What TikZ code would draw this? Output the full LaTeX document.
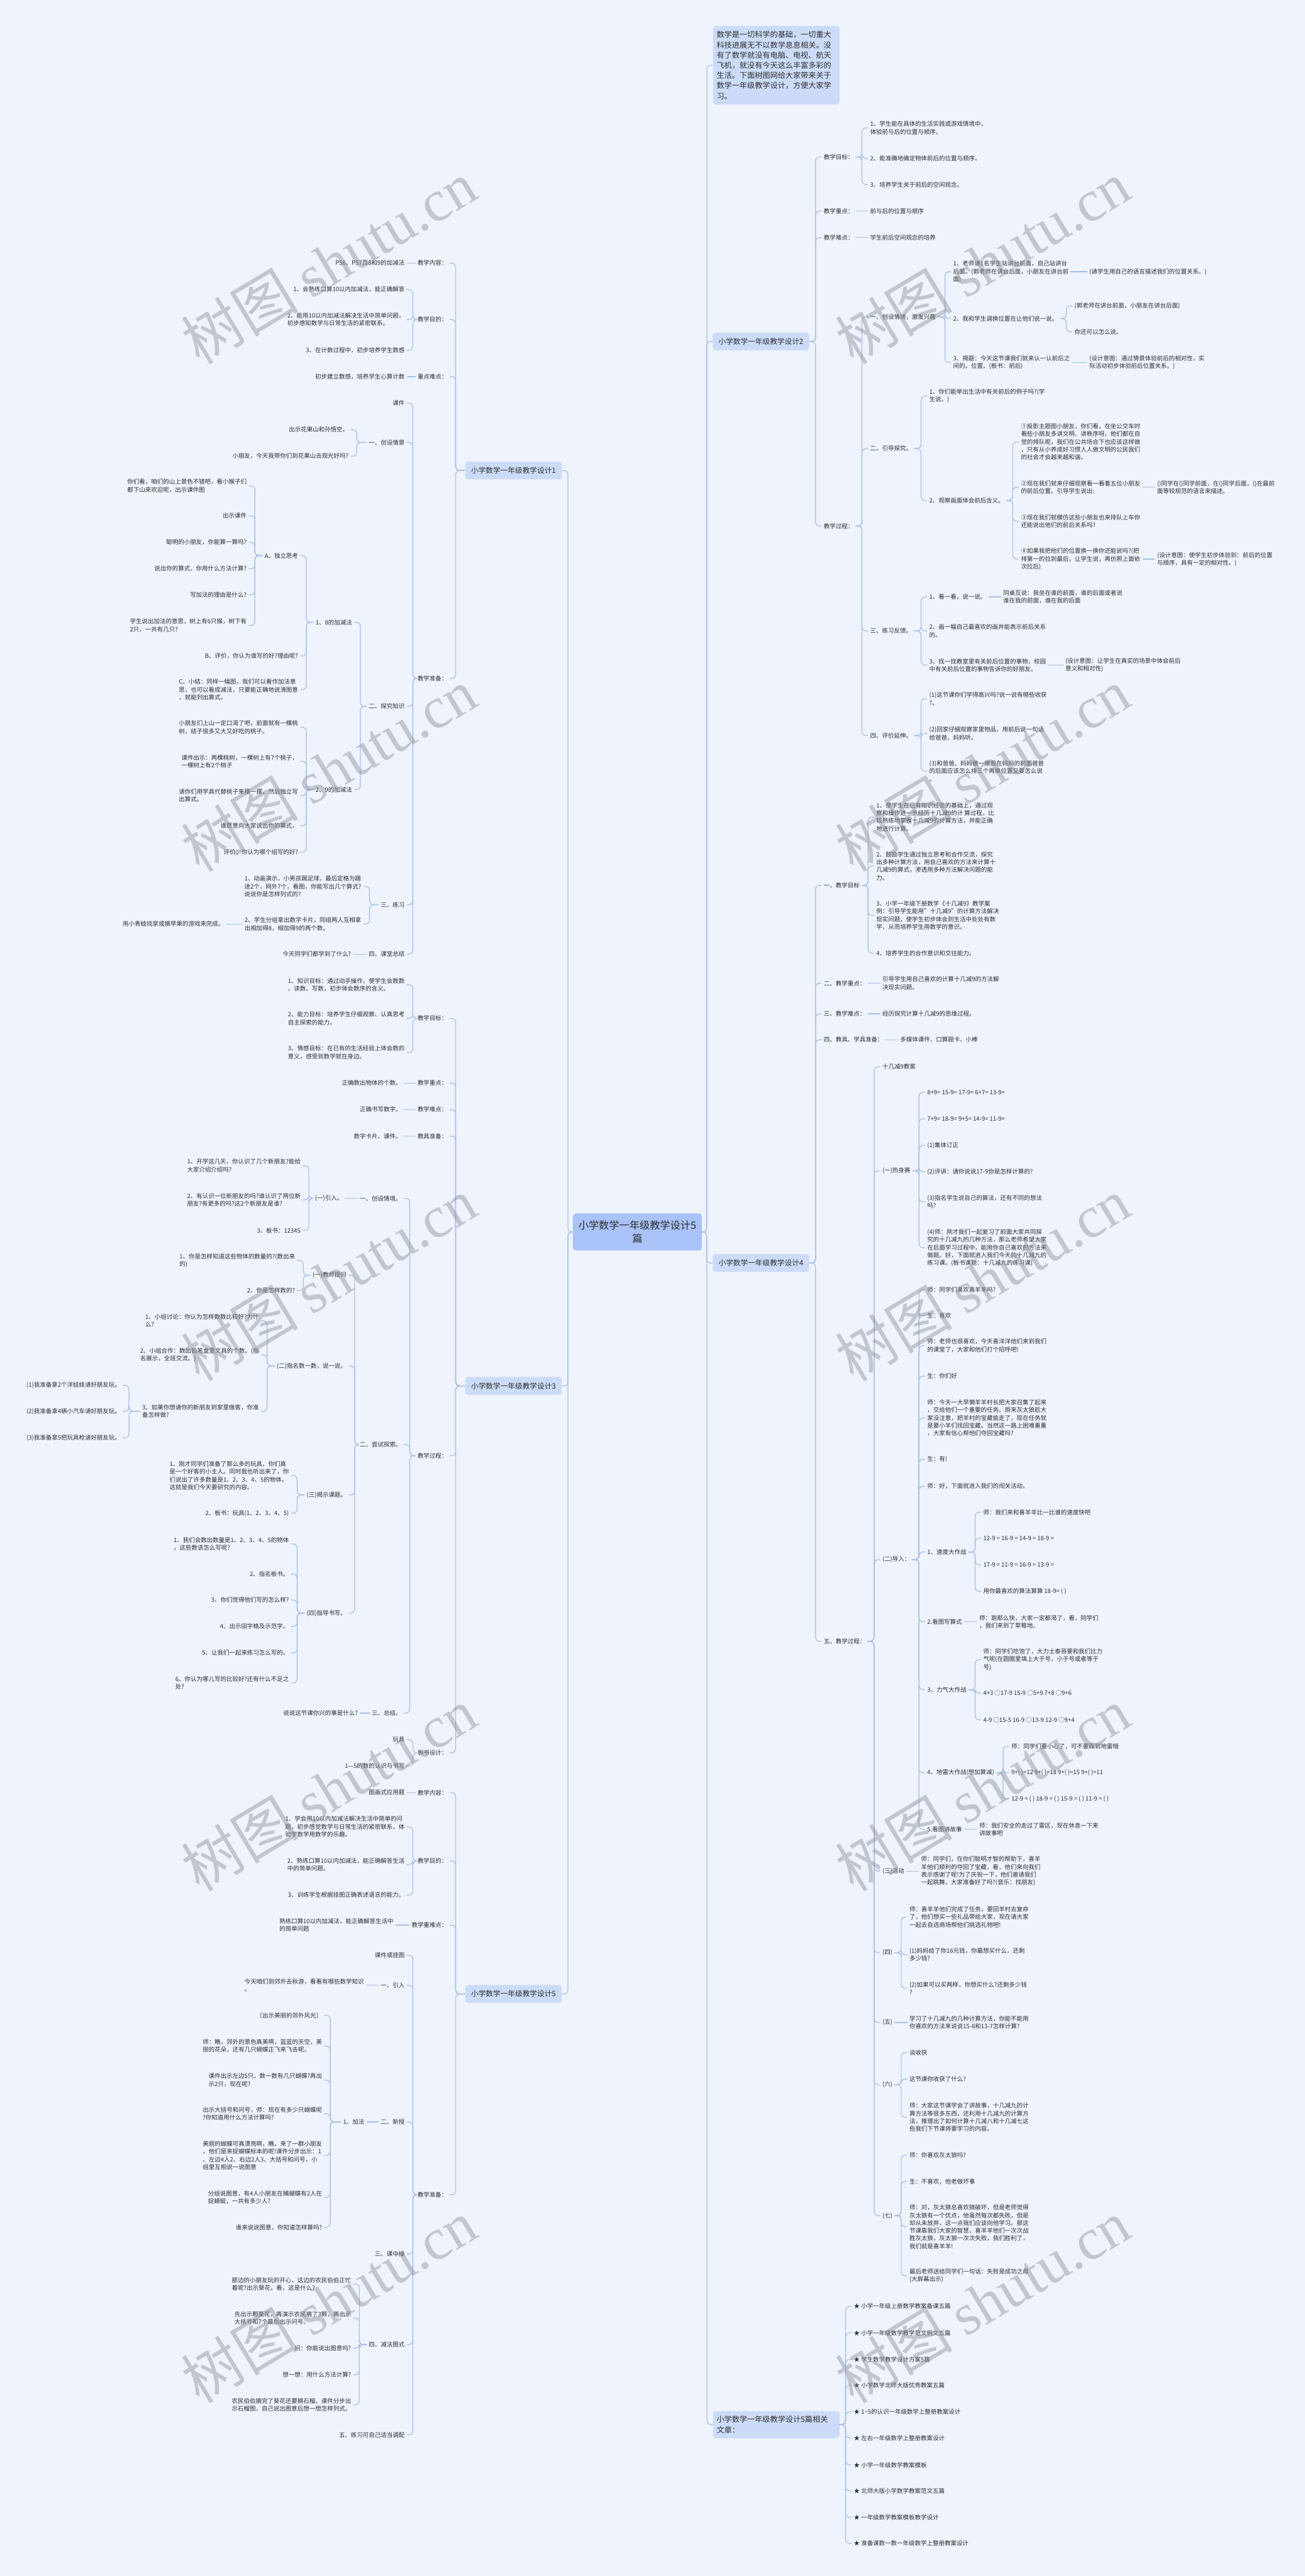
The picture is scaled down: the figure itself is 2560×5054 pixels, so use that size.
\documentclass[tikz,border=0pt]{standalone}
\usepackage{fontspec}
\setmainfont{Noto Sans CJK SC}
\newfontfamily\wmf{Liberation Serif}
\usetikzlibrary{calc}
\definecolor{bgc}{HTML}{EEF3FC}
\definecolor{lc}{HTML}{A7BFE5}
\definecolor{l1c}{HTML}{CCDCF8}
\definecolor{c0c}{HTML}{A9C2F8}
\definecolor{tc}{HTML}{2E2E2E}
\definecolor{wmc}{HTML}{8C9099}
\newcommand\fs{\fontsize{11.7}{15.2}\selectfont}
\newcommand\fl{\fontsize{14.4}{19}\selectfont}
\newcommand\fc{\fontsize{20}{26}\selectfont}
\newcommand\fib{\fontsize{15}{20}\selectfont}
\newcommand\KR[2]{\foreach \kk in {#2}{\draw[conn] (#1.east) -- ($(#1.east -| \kk.west)+(-12,0)$) |- (\kk.west);}}
\newcommand\KL[2]{\foreach \kk in {#2}{\draw[conn] (#1.west) -- ($(#1.west -| \kk.east)+(12,0)$) |- (\kk.east);}}
\newcommand\SR[2]{\draw[conn] (#1.east) -- (#2.west);}
\newcommand\SL[2]{\draw[conn] (#1.west) -- (#2.east);}
\tikzset{
 txt/.style={font=\fs, text=tc, inner xsep=4pt, inner ysep=1pt, align=left},
 nl/.style={txt, anchor=east},
 nr/.style={txt, anchor=west},
 conn/.style={draw=lc, line width=1.5pt, rounded corners=8pt},
 lone/.style={fill=l1c, rounded corners=5pt, font=\fl, text=tc, inner xsep=9pt, minimum height=35pt, minimum width=189pt},
 wm/.style={rotate=31, text=wmc, opacity=0.45, font=\fontsize{115}{115}\selectfont},
}
\begin{document}
\begin{tikzpicture}[x=1pt,y=-1pt]
\path[fill=bgc] (0,0) rectangle (2560,5054);
\useasboundingbox (0,0) rectangle (2560,5054);

% ---------- centre ----------
\node[fill=c0c, rounded corners=6pt, font=\fc, text=tc, align=center, minimum width=253pt, minimum height=73pt] (ctr) at (1250.5,2417) {小学数学一年级教学设计5\\篇};

% ---------- level 1 ----------
\node[lone] (d1) at (1007.5,923) {小学数学一年级教学设计1};
\node[lone] (d3) at (1007.5,2719) {小学数学一年级教学设计3};
\node[lone] (d5) at (1007.5,3912) {小学数学一年级教学设计5};
\node[fill=l1c, rounded corners=5pt, font=\fib, text=tc, align=left, text width=234pt, inner xsep=7pt, minimum height=154pt] (ib) at (1523,128) {数学是一切科学的基础，一切重大\\科技进展无不以数学息息相关。没\\有了数学就没有电脑、电视、航天\\飞机，就没有今天这么丰富多彩的\\生活。下面树图网给大家带来关于\\数学一年级教学设计，方便大家学\\习。};
\node[lone] (d2) at (1493,670) {小学数学一年级教学设计2};
\node[lone] (d4) at (1493,2478) {小学数学一年级教学设计4};
\node[fill=l1c, rounded corners=5pt, font=\fib, text=tc, align=left, text width=234pt, inner xsep=7pt, minimum height=53pt] (rel) at (1523,4757) {小学数学一年级教学设计5篇相关\\文章：};

% ================= DESIGN 1 =================
\node[nl] (a1) at (882,516) {教学内容：};
\node[nl] (a2) at (882,627) {教学目的：};
\node[nl] (a3) at (882,739) {重点难点：};
\node[nl] (a4) at (882,1331) {教学准备：};
\node[nl] (a11) at (798,516) {P56、P57页8和9的加减法};
\node[nl] (a21) at (798,568) {1、会熟练口算10以内加减法，能正确解答};
\node[nl] (a22) at (798,627) {2、能用10以内加减法解决生活中简单问题，\\初步感知数学与日常生活的紧密联系。};
\node[nl] (a23) at (798,687) {3、在计数过程中，初步培养学生数感};
\node[nl] (a31) at (798,739) {初步建立数感，培养学生心算计数};
\node[nl] (a41) at (798,791) {课件};
\node[nl] (a42) at (798,868) {一、创设情景};
\node[nl] (a43) at (798,1386) {二、探究知识};
\node[nl] (a44) at (798,1775) {三、练习};
\node[nl] (a45) at (798,1872) {四、课堂总结};
\node[nl] (a421) at (688,843) {出示花果山和孙悟空，};
\node[nl] (a422) at (688,895) {小朋友，今天我带你们到花果山去观光好吗?};
\node[nl] (a431) at (695,1221) {1、8的加减法};
\node[nl] (a432) at (695,1549) {2、9的加减法};
\node[nl] (a4311) at (589,1090) {A、独立思考};
\node[nl] (a4312) at (589,1287) {B、评价，你认为谁写的好?理由呢?};
\node[nl] (a4313) at (589,1353) {C、小结：同样一幅图，我们可以看作加法意\\思，也可以看成减法，只要能正确地说清图意\\，就能列出算式。};
\node[nl] (n1) at (488,953) {你们看，咱们的山上景色不错吧，看小猴子们\\都下山来欢迎呢，出示课件图};
\node[nl] (n2) at (488,1012) {出示课件};
\node[nl] (n3) at (488,1064) {聪明的小朋友，你能算一算吗?};
\node[nl] (n4) at (488,1116) {说出你的算式，你用什么方法计算?};
\node[nl] (n5) at (488,1167) {写加法的理由是什么?};
\node[nl] (n6) at (488,1227) {学生说出加法的意思，树上有6只猴，树下有\\2只，一共有几只?};
\node[nl] (m1) at (589,1427) {小朋友们上山一定口渴了吧，前面就有一棵桃\\树，结子很多又大又好吃的桃子。};
\node[nl] (m2) at (589,1494) {课件出示：两棵桃树，一棵树上有7个桃子，\\一棵树上有2个桃子};
\node[nl] (m3) at (589,1561) {请你们用学具代替桃子来摆一摆，然后独立写\\出算式。};
\node[nl] (m4) at (589,1620) {谁愿意向大家说出你的算式，};
\node[nl] (m5) at (589,1672) {评价：你认为哪个组写的好?};
\node[nl] (a441) at (713,1739) {1、动画演示，小男孩踢足球，最后定格为踢\\进2个，网外7个，看图，你能写出几个算式?\\说说你是怎样列式的?};
\node[nl] (a442) at (713,1813) {2、学生分组拿出数字卡片，同组两人互相拿\\出相加得8，相加得9的两个数。};
\node[nl] (a4421) at (444,1813) {用小青蛙找家或摘苹果的游戏来完成。};
\node[nl] (a451) at (693,1872) {今天同学们都学到了什么?};

% ================= DESIGN 3 =================
\node[nl] (b1) at (882,1998) {教学目标：};
\node[nl] (b2) at (882,2125) {教学重点：};
\node[nl] (b3) at (882,2177) {教学难点：};
\node[nl] (b4) at (882,2229) {教具准备：};
\node[nl] (b5) at (882,2856) {教学过程：};
\node[nl] (b6) at (882,3439) {板书设计：};
\node[nl] (b11) at (798,1932) {1、知识目标：通过动手操作，使学生会数数\\、读数、写数，初步体会数序的含义。};
\node[nl] (b12) at (798,1998) {2、能力目标：培养学生仔细观察、认真思考\\自主探索的能力。};
\node[nl] (b13) at (798,2065) {3、情感目标：在已有的生活经验上体会数的\\意义，感受到数学就在身边。};
\node[nl] (b21) at (792,2125) {正确数出物体的个数。};
\node[nl] (b31) at (792,2177) {正确书写数字。};
\node[nl] (b41) at (792,2229) {数字卡片、课件。};
\node[nl] (b51) at (792,2351) {一、创设情境。};
\node[nl] (b52) at (792,2834) {二、尝试探索。};
\node[nl] (b53) at (792,3361) {三、总结。};
\node[nl] (b511) at (677,2351) {(一)引入。};
\node[nl] (b5111) at (594,2287) {1、开学这几天，你认识了几个新朋友?能给\\大家介绍介绍吗?};
\node[nl] (b5112) at (594,2354) {2、有认识一位新朋友的吗?谁认识了两位新\\朋友?有更多的吗?这2个新朋友是谁?};
\node[nl] (b5113) at (594,2414) {3、板书：12345};
\node[nl] (b521) at (684,2502) {(一)教师提问};
\node[nl] (b522) at (684,2680) {(二)指名数一数，说一说。};
\node[nl] (b523) at (684,2933) {(三)揭示课题。};
\node[nl] (b524) at (684,3165) {(四)指导书写。};
\node[nl] (b5211) at (583,2473) {1、你是怎样知道这些物体的数量的?(数出来\\的)};
\node[nl] (b5212) at (583,2532) {2、你是怎样数的?};
\node[nl] (b5221) at (512,2591) {1、小组讨论：你认为怎样数数比较好?为什\\么?};
\node[nl] (b5222) at (512,2658) {2、小组合作：数出铅笔盒里文具的个数。(指\\名展示，全班交流。)};
\node[nl] (b5223) at (512,2769) {3、如果你想请你的新朋友到家里做客，你准\\备怎样做?};
\node[nl] (w1) at (241,2718) {(1)我准备拿2个洋娃娃请好朋友玩。};
\node[nl] (w2) at (241,2769) {(2)我准备拿4辆小汽车请好朋友玩。};
\node[nl] (w3) at (241,2821) {(3)我准备拿5把玩具枪请好朋友玩。};
\node[nl] (b5231) at (571,2895) {1、刚才同学们准备了那么多的玩具，你们真\\是一个好客的小主人。同时我也听出来了，你\\们说出了许多数量是1、2、3、4、5的物体。\\这就是我们今天要研究的内容。};
\node[nl] (b5232) at (571,2969) {2、板书：玩具(1、2、3、4、5)};
\node[nl] (p1) at (571,3029) {1、我们会数出数量是1、2、3、4、5的物体\\，这些数该怎么写呢?};
\node[nl] (p2) at (571,3088) {2、指名板书。};
\node[nl] (p3) at (571,3139) {3、你们觉得他们写的怎么样?};
\node[nl] (p4) at (571,3191) {4、出示田字格及示范字。};
\node[nl] (p5) at (571,3243) {5、让我们一起来练习怎么写的。};
\node[nl] (p6) at (571,3302) {6、你认为哪儿写的比较好?还有什么不足之\\处?};
\node[nl] (b531) at (706,3361) {说说这节课你兴的事是什么?};
\node[nl] (b61) at (798,3413) {玩具};
\node[nl] (b62) at (798,3465) {1—5的数的认识与书写};

% ================= DESIGN 5 =================
\node[nl] (c1) at (882,3517) {教学内容：};
\node[nl] (c2) at (882,3651) {教学目的：};
\node[nl] (c3) at (882,3777) {教学重难点：};
\node[nl] (c4) at (882,4306) {教学准备：};
\node[nl] (c11) at (798,3517) {图画式应用题};
\node[nl] (c21) at (798,3584) {1、学会用10以内加减法解决生活中简单的问\\题，初步感觉数学与日常生活的紧密联系，体\\验学数学用数学的乐趣。};
\node[nl] (c22) at (798,3658) {2、熟练口算10以内加减法，能正确解答生活\\中的简单问题。};
\node[nl] (c23) at (798,3718) {3、训练学生根据挂图正确表述语言的能力。};
\node[nl] (c31) at (776,3777) {熟练口算10以内加减法，能正确解答生活中\\的简单问题};
\node[nl] (c41) at (798,3836) {课件或挂图};
\node[nl] (c42) at (798,3895) {一、引入};
\node[nl] (c43) at (798,4163) {二、新授};
\node[nl] (c44) at (798,4422) {三、课中操};
\node[nl] (c45) at (798,4600) {四、减法图式};
\node[nl] (c46) at (798,4777) {五、练习可自己适当调配};
\node[nl] (c421) at (718,3895) {今天咱们到郊外去秋游，看看有哪些数学知识\\。};
\node[nl] (c431) at (719,4163) {1、加法};
\node[nl] (q1) at (636,3954) {〔出示美丽的郊外风光〕};
\node[nl] (q2) at (636,4014) {师：瞧，郊外的景色真美啊，蓝蓝的天空，美\\丽的花朵，还有几只蝴蝶正飞来飞去呢。};
\node[nl] (q3) at (636,4081) {课件出示左边5只，数一数有几只蝴蝶?再出\\示2只，现在呢?};
\node[nl] (q4) at (636,4147) {出示大括号和问号，师：现在有多少只蝴蝶呢\\?你知道用什么方法计算吗?};
\node[nl] (q5) at (636,4229) {美丽的蝴蝶可真漂亮啊，瞧，来了一群小朋友\\，他们是来捉蝴蝶标本的呢!课件分步出示：1\\、左边4人2、右边2人3、大括号和问号，小\\组里互相说一说图意};
\node[nl] (q6) at (636,4311) {分组说图意，有4人小朋友在捕蝴蝶有2人在\\捉蜻蜓，一共有多少人?};
\node[nl] (q7) at (636,4370) {谁来说说图意，你知道怎样算吗?};
\node[nl] (r1) at (693,4481) {那边的小朋友玩的开心，这边的农民伯伯正忙\\着呢?出示葵花，看，这是什么?};
\node[nl] (r2) at (693,4548) {先出示颗葵花，再演示农民摘了3颗，再出示\\大括号和7个最后出示问号。};
\node[nl] (r3) at (693,4607) {问：你能说出图意吗?};
\node[nl] (r4) at (693,4659) {想一想：用什么方法计算?};
\node[nl] (r5) at (693,4718) {农民伯伯摘完了葵花还要摘石榴。课件分步出\\示石榴图，自己说出图意后想一想怎样列式。};

% ================= DESIGN 2 =================
\node[nr] (e1) at (1612,308) {教学目标：};
\node[nr] (e2) at (1612,414) {教学重点：};
\node[nr] (e3) at (1612,466) {教学难点：};
\node[nr] (e4) at (1612,1032) {教学过程：};
\node[nr] (e11) at (1703,251) {1、学生能在具体的生活实践或游戏情境中，\\体验前与后的位置与顺序。};
\node[nr] (e12) at (1703,311) {2、能准确地确定物体前后的位置与顺序。};
\node[nr] (e13) at (1703,362) {3、培养学生关于前后的空间观念。};
\node[nr] (e21) at (1703,414) {前与后的位置与顺序};
\node[nr] (e31) at (1703,466) {学生前后空间观念的培养};
\node[nr] (e41) at (1703,622) {一、创设情境，激发兴趣};
\node[nr] (e42) at (1703,880) {二、引导探究。};
\node[nr] (e43) at (1703,1238) {三、练习反馈。};
\node[nr] (e44) at (1703,1443) {四、评价延伸。};
\node[nr] (e411) at (1866,533) {1、老师请1名学生站讲台前面，自己站讲台\\后面。(郭老师在讲台后面，小朋友在讲台前\\面)};
\node[nr] (e412) at (1866,625) {2、我和学生调换位置在让他们说一说。};
\node[nr] (e413) at (1866,711) {3、揭题：今天这节课我们就来认一认前后之\\间的。位置。(板书：前后)};
\node[nr] (e4111) at (2133,533) {(请学生用自己的语言描述我们的位置关系。)};
\node[nr] (e4121) at (2104,600) {(郭老师在讲台前面，小朋友在讲台后面)};
\node[nr] (e4122) at (2104,651) {你还可以怎么说。};
\node[nr] (e4131) at (2133,711) {(设计意图：通过情景体验前后的相对性，实\\际活动初步体验前后位置关系。)};
\node[nr] (e421) at (1819,777) {1、你们能举出生活中有关前后的例子吗?(学\\生说。)};
\node[nr] (e422) at (1819,982) {2、观察画面体会前后含义。};
\node[nr] (e4221) at (1999,867) {①投影主题图小朋友，你们看，在坐公交车时\\看些小朋友多讲文明、讲秩序呀。他们都在自\\觉的排队呢，我们在公共场合下也应该这样做\\，只有从小养成好习惯人人做文明的公民我们\\的社会才会越来越和谐。};
\node[nr] (e4222) at (1999,956) {②现在我们就来仔细观察看一看着五位小朋友\\的前后位置。引导学生说出:};
\node[nr] (e4223) at (1999,1023) {③现在我们就模仿这些小朋友也来排队上车你\\还能说出他们的前后关系吗?};
\node[nr] (e4224) at (1999,1097) {④如果我把他们的位置换一换你还能说吗?(把\\排第一的拉到最后，让学生说，再仿照上面依\\次拉后)};
\node[nr] (e42221) at (2266,956) {()同学在()同学前面，在()同学后面，()在最前\\面等较规范的语言来描述。};
\node[nr] (e42241) at (2266,1097) {(设计意图：使学生初步体验到：前后的位置\\与顺序，具有一定的相对性。)};
\node[nr] (e431) at (1819,1171) {1、看一看，说一说。};
\node[nr] (e432) at (1819,1238) {2、画一幅自己最喜欢的画并能表示前后关系\\的。};
\node[nr] (e433) at (1819,1305) {3、找一找教室里有关前后位置的事物，校园\\中有关前后位置的事物告诉你的好朋友。};
\node[nr] (e4311) at (1964,1171) {同桌互说：我坐在谁的前面，谁的后面或者说\\谁在我的前面，谁在我的后面};
\node[nr] (e4331) at (2086,1305) {(设计意图：让学生在真实的场景中体会前后\\意义和相对性)};
\node[nr] (e441) at (1819,1371) {(1)这节课你们学得高兴吗?说一说有哪些收获\\?。};
\node[nr] (e442) at (1819,1439) {(2)回家仔细观察家里物品，用前后说一句话\\给爸爸、妈妈听。};
\node[nr] (e443) at (1819,1513) {(3)和爸爸、妈妈做一做我在妈妈的前面爸爸\\的后面应该怎么排三个再换位置又要怎么说\\。};

% ================= DESIGN 4 =================
\node[nr] (f1) at (1612,1737) {一、教学目标};
\node[nr] (f2) at (1612,1929) {二、教学重点：};
\node[nr] (f3) at (1612,1989) {三、教学难点：};
\node[nr] (f4) at (1612,2040) {四、教具、学具准备：};
\node[nr] (f5) at (1612,3220) {五、教学过程：};
\node[nr] (f11) at (1715,1603) {1、使学生在已有知识经验的基础上，通过观\\察和操作进一步经历十几减9的计 算过程，比\\较熟练地掌握十几减9的计算方法，并能正确\\地进行计算。};
\node[nr] (f12) at (1715,1699) {2、鼓励学生通过独立思考和合作交流，探究\\出多种计算方法，用自己喜欢的方法来计算十\\几减9的算式，渗透用多种方法解决问题的能\\力。};
\node[nr] (f13) at (1715,1796) {3、小学一年级下册数学《十几减9》教学案\\例：引导学生能用"十几减9"的计算方法解决\\现实问题，使学生初步体会到生活中处处有数\\学，从而培养学生用数学的意识。};
\node[nr] (f14) at (1715,1870) {4、培养学生的合作意识和交往能力。};
\node[nr] (f21) at (1727,1929) {引导学生用自己喜欢的计算十几减9的方法解\\决现实问题。};
\node[nr] (f31) at (1727,1989) {经历探究计算十几减9的思维过程。};
\node[nr] (f41) at (1762,2040) {多媒体课件、口算题卡、小棒};
\node[nr] (f51) at (1727,2093) {十几减9教案};
\node[nr] (f52) at (1727,2297) {(一)热身赛};
\node[nr] (f53) at (1727,3060) {(二)导入：};
\node[nr] (f54) at (1727,3671) {(三)活动};
\node[nr] (f55) at (1727,3831) {(四)};
\node[nr] (f56) at (1727,3968) {(五)};
\node[nr] (f57) at (1727,4090) {(六)};
\node[nr] (f58) at (1727,4347) {(七)};
\node[nr] (h1) at (1815,2143) {8+9= 15-9= 17-9= 6+7= 13-9=};
\node[nr] (h2) at (1815,2195) {7+9= 18-9= 9+5= 14-9= 11-9=};
\node[nr] (h3) at (1815,2247) {(1)集体订正};
\node[nr] (h4) at (1815,2299) {(2)评讲：请你说说17-9你是怎样计算的?};
\node[nr] (h5) at (1815,2358) {(3)指名学生说自己的算法，还有不同的想法\\吗?};
\node[nr] (h6) at (1815,2448) {(4)师：刚才我们一起复习了前面大家共同探\\究的十几减九的几种方法，那么老师希望大家\\在后面学习过程中，能用你自己喜欢的方法来\\做题。好，下面就进入我们今天的十几减九的\\练习课。(板书课题：十几减九的练习课)};
\node[nr] (k1) at (1815,2530) {师：同学们喜欢喜羊羊吗?};
\node[nr] (k2) at (1815,2581) {生：喜欢};
\node[nr] (k3) at (1815,2640) {师：老师也很喜欢，今天喜洋洋他们来到我们\\的课堂了，大家和他们打个招呼吧!};
\node[nr] (k4) at (1815,2700) {生：你们好};
\node[nr] (k5) at (1815,2782) {师：今天一大早懒羊羊村长把大家召集了起来\\，交给他们一个重要的任务。原来灰太狼趁大\\家没注意，把羊村的宝藏偷走了，现在任务就\\是要小羊们找回宝藏。当然这一路上困难重重\\，大家有信心帮他们夺回宝藏吗?};
\node[nr] (k6) at (1815,2863) {生：有!};
\node[nr] (k7) at (1815,2916) {师：好，下面就进入我们的闯关活动。};
\node[nr] (g1) at (1815,3045) {1、速度大作战};
\node[nr] (g2) at (1815,3182) {2.看图写算式};
\node[nr] (g3) at (1815,3315) {3、力气大作战};
\node[nr] (g4) at (1815,3478) {4、地雷大作战(想加算减)};
\node[nr] (g5) at (1815,3589) {5.看图讲故事};
\node[nr] (g11) at (1925,2967) {师：我们来和喜羊羊比一比谁的速度快吧};
\node[nr] (g12) at (1925,3018) {12-9 = 16-9 = 14-9 = 18-9 =};
\node[nr] (g13) at (1925,3070) {17-9 = 11-9 = 16-9 = 13-9 =};
\node[nr] (g14) at (1925,3122) {用你最喜欢的算法算算 18-9= ( )};
\node[nr] (g21) at (1917,3182) {师：跑那么快，大家一定都渴了，看，同学们\\，我们来到了草莓地。};
\node[nr] (g31) at (1925,3256) {师：同学们吃饱了，大力士泰哥要和我们比力\\气呢(在圆圈里填上大于号，小于号或者等于\\号)};
\node[nr] (g32) at (1925,3322) {4+3 ○17-9 15-9 ○5+9 7+8 ○9+6};
\node[nr] (g33) at (1925,3374) {4-9 ○15-5 16-9 ○13-9 12-9 ○9+4};
\node[nr] (g41) at (1980,3426) {师：同学们要小心了，可不要踩到地雷哦};
\node[nr] (g42) at (1980,3478) {9+( )=12 9+( )=18 9+( )=15 9+( )=11};
\node[nr] (g43) at (1980,3529) {12-9 = ( ) 18-9 = ( ) 15-9 = ( ) 11-9 = ( )};
\node[nr] (g51) at (1917,3589) {师：我们安全的走过了雷区，现在休息一下来\\讲故事吧};
\node[nr] (f541) at (1803,3671) {师：同学们，在你们聪明才智的帮助下，喜羊\\羊他们顺利的夺回了宝藏，看，他们来向我们\\表示感谢了呢!为了庆祝一下，他们邀请我们\\一起跳舞，大家准备好了吗?(音乐：找朋友)};
\node[nr] (s1) at (1780,3761) {师：喜羊羊他们完成了任务，要回羊村去复命\\了，他们想买一些礼品带给大家，现在请大家\\一起去自选商场帮他们挑选礼物吧!};
\node[nr] (s2) at (1780,3835) {(1)妈妈给了你16元钱，你最想买什么，还剩\\多少钱?};
\node[nr] (s3) at (1780,3901) {(2)如果可以买两样，你想买什么?还剩多少钱\\?};
\node[nr] (f561) at (1780,3968) {学习了十几减九的几种计算方法，你能不能用\\你喜欢的方法来说说15-8和13-7怎样计算?};
\node[nr] (t1) at (1780,4027) {谈收获};
\node[nr] (t2) at (1780,4079) {这节课你收获了什么?};
\node[nr] (t3) at (1780,4154) {师：大家这节课学会了讲故事，十几减九的计\\算方法等很多东西，还利用十几减九的计算方\\法，推理出了如何计算十几减八和十几减七这\\些我们下节课将要学习的内容。};
\node[nr] (u1) at (1780,4228) {师：你喜欢灰太狼吗?};
\node[nr] (u2) at (1780,4280) {生：不喜欢，他老做坏事};
\node[nr] (u3) at (1780,4369) {师：对，灰太狼总喜欢搞破坏，但是老师觉得\\灰太狼有一个优点，他虽然每次都失败，但是\\却从未放弃，这一点我们应该向他学习。那这\\节课靠我们大家的智慧，喜羊羊他们一次次战\\胜灰太狼，灰太狼一次次失败，我们胜利了，\\我们就是喜羊羊!};
\node[nr] (u4) at (1780,4465) {最后老师送给同学们一句话：失败是成功之母\\(大屏幕出示)};

% ================= RELATED =================
\node[nr] (v1) at (1671,4525) {★ 小学一年级上册数学教案备课五篇};
\node[nr] (v2) at (1671,4577) {★ 小学一年级数学教学范文例文五篇};
\node[nr] (v3) at (1671,4629) {★ 学生数学教学设计方案5篇};
\node[nr] (v4) at (1671,4680) {★ 小学数学北师大版优秀教案五篇};
\node[nr] (v5) at (1671,4732) {★ 1\textasciitilde 5的认识一年级数学上整册教案设计};
\node[nr] (v6) at (1671,4783) {★ 左右一年级数学上整册教案设计};
\node[nr] (v7) at (1671,4836) {★ 小学一年级数学教案模板};
\node[nr] (v8) at (1671,4887) {★ 北师大版小学数学教案范文五篇};
\node[nr] (v9) at (1671,4939) {★ 一年级数学教案模板教学设计};
\node[nr] (v10) at (1671,4990) {★ 准备课数一数一年级数学上整册教案设计};

% ================= CONNECTORS =================
\KL{ctr}{d1,d3,d5}
\KR{ctr}{ib,d2,d4,rel}
% design 1
\KL{d1}{a1,a2,a3,a4}
\SL{a1}{a11}
\KL{a2}{a21,a22,a23}
\SL{a3}{a31}
\KL{a4}{a41,a42,a43,a44,a45}
\KL{a42}{a421,a422}
\KL{a43}{a431,a432}
\KL{a431}{a4311,a4312,a4313}
\KL{a4311}{n1,n2,n3,n4,n5,n6}
\KL{a432}{m1,m2,m3,m4,m5}
\KL{a44}{a441,a442}
\SL{a442}{a4421}
\SL{a45}{a451}
% design 3
\KL{d3}{b1,b2,b3,b4,b5,b6}
\KL{b1}{b11,b12,b13}
\SL{b2}{b21}
\SL{b3}{b31}
\SL{b4}{b41}
\KL{b5}{b51,b52,b53}
\SL{b51}{b511}
\KL{b511}{b5111,b5112,b5113}
\KL{b52}{b521,b522,b523,b524}
\KL{b521}{b5211,b5212}
\KL{b522}{b5221,b5222,b5223}
\KL{b5223}{w1,w2,w3}
\KL{b523}{b5231,b5232}
\KL{b524}{p1,p2,p3,p4,p5,p6}
\SL{b53}{b531}
\KL{b6}{b61,b62}
% design 5
\KL{d5}{c1,c2,c3,c4}
\SL{c1}{c11}
\KL{c2}{c21,c22,c23}
\SL{c3}{c31}
\KL{c4}{c41,c42,c43,c44,c45,c46}
\SL{c42}{c421}
\SL{c43}{c431}
\KL{c431}{q1,q2,q3,q4,q5,q6,q7}
\KL{c45}{r1,r2,r3,r4,r5}
% design 2
\KR{d2}{e1,e2,e3,e4}
\KR{e1}{e11,e12,e13}
\SR{e2}{e21}
\SR{e3}{e31}
\KR{e4}{e41,e42,e43,e44}
\KR{e41}{e411,e412,e413}
\SR{e411}{e4111}
\KR{e412}{e4121,e4122}
\SR{e413}{e4131}
\KR{e42}{e421,e422}
\KR{e422}{e4221,e4222,e4223,e4224}
\SR{e4222}{e42221}
\SR{e4224}{e42241}
\KR{e43}{e431,e432,e433}
\SR{e431}{e4311}
\SR{e433}{e4331}
\KR{e44}{e441,e442,e443}
% design 4
\KR{d4}{f1,f2,f3,f4,f5}
\KR{f1}{f11,f12,f13,f14}
\SR{f2}{f21}
\SR{f3}{f31}
\SR{f4}{f41}
\KR{f5}{f51,f52,f53,f54,f55,f56,f57,f58}
\KR{f52}{h1,h2,h3,h4,h5,h6}
\KR{f53}{k1,k2,k3,k4,k5,k6,k7,g1,g2,g3,g4,g5}
\KR{g1}{g11,g12,g13,g14}
\SR{g2}{g21}
\KR{g3}{g31,g32,g33}
\KR{g4}{g41,g42,g43}
\SR{g5}{g51}
\SR{f54}{f541}
\KR{f55}{s1,s2,s3}
\SR{f56}{f561}
\KR{f57}{t1,t2,t3}
\KR{f58}{u1,u2,u3,u4}
% related
\KR{rel}{v1,v2,v3,v4,v5,v6,v7,v8,v9,v10}

% ================= WATERMARK =================
\foreach \yy in {515,1510,2510,3510,4515}{
  \foreach \xx in {645,1928}{
    \node[wm] (wm-\xx-\yy) at (\xx,\yy) {树图 {\wmf shutu.cn}};
  }
}
\end{tikzpicture}
\end{document}
